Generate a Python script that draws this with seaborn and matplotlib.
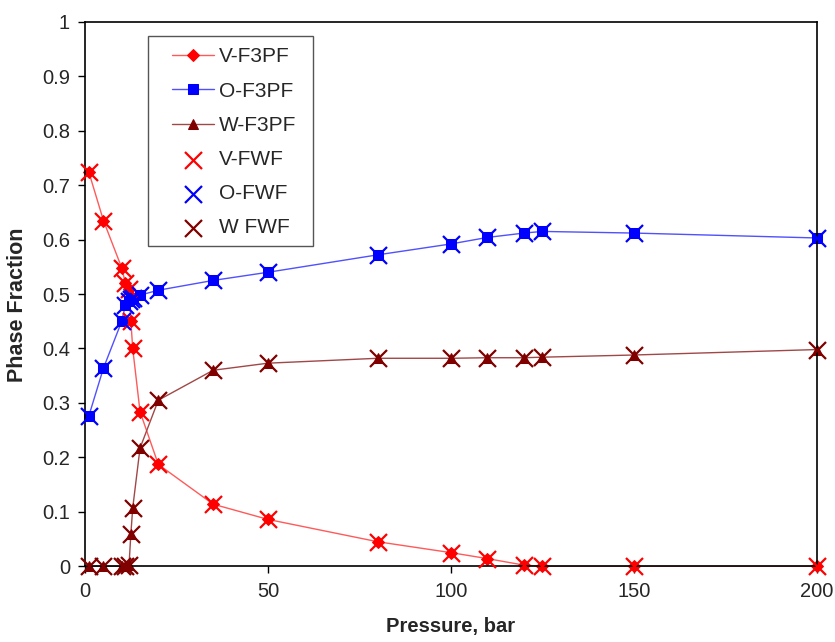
import numpy as np
import pandas as pd
import matplotlib
matplotlib.use("Agg")
import matplotlib.pyplot as plt
from matplotlib.patches import Rectangle
import seaborn as sns

# Pressure points (bar)
pressure = [1, 5, 10, 11, 12, 12.5, 13, 15, 20, 35, 50, 80, 100, 110, 120, 125, 150, 200]

# Phase fractions
vapour = [0.724, 0.635, 0.548, 0.52, 0.51, 0.45, 0.40, 0.284, 0.187, 0.114, 0.086,
          0.045, 0.025, 0.014, 0.002, 0.0, 0.0, 0.0]
oil = [0.276, 0.364, 0.450, 0.48, 0.487, 0.49, 0.493, 0.498, 0.507, 0.525, 0.540,
       0.572, 0.592, 0.604, 0.612, 0.615, 0.612, 0.603]
water = [0.0, 0.0, 0.0, 0.0, 0.003, 0.06, 0.107, 0.217, 0.305, 0.360, 0.373,
         0.382, 0.382, 0.383, 0.383, 0.384, 0.388, 0.398]

f3pf_labels = ["V-F3PF", "O-F3PF", "W-F3PF"]
fwf_labels = ["V-FWF", "O-FWF", "W FWF"]

colors = ["#ff0000", "#0000ff", "#800000"]
line_colors = ["#ff5a5a", "#5050ff", "#a04848"]
markers = ["D", "s", "^"]
msizes = [6, 6.5, 7.5]
series = [vapour, oil, water]

sns.set_style("white")
plt.rcParams["font.family"] = ["Liberation Sans", "DejaVu Sans"]

fig = plt.figure(figsize=(8.35, 6.42), dpi=100)
ax = fig.add_axes([0.102, 0.118, 0.876, 0.848])

# F3PF: lines with filled markers
for y, lab, c, lc, m, ms in zip(series, f3pf_labels, colors, line_colors, markers, msizes):
    sns.lineplot(x=pressure, y=y, ax=ax, color=lc, marker=m, markersize=ms,
                 markeredgecolor=c, markerfacecolor=c, linewidth=1.0,
                 label=lab, sort=False, estimator=None, clip_on=False)

# FWF: cross markers only
for y, lab, c in zip(series, fwf_labels, colors):
    sns.scatterplot(x=pressure, y=y, ax=ax, color=c, marker="x", s=150,
                    linewidth=1.6, label=lab, zorder=5, clip_on=False)

ax.set_xlim(0, 200)
ax.set_ylim(0, 1)
ax.set_xticks([0, 50, 100, 150, 200])
ax.set_yticks(np.arange(0, 1.01, 0.1))
ax.set_yticklabels(["0", "0.1", "0.2", "0.3", "0.4", "0.5", "0.6", "0.7", "0.8", "0.9", "1"])

for s in ax.spines.values():
    s.set_color("black")
    s.set_linewidth(1.2)

ax.tick_params(axis="both", direction="out", length=5, width=1, color="black",
               labelsize=14.5, pad=6, left=True, bottom=True)
ax.set_xlabel("Pressure, bar", fontsize=14.5, fontweight="bold", labelpad=12)
ax.set_ylabel("Phase Fraction", fontsize=15.5, fontweight="bold")
ax.yaxis.set_label_coords(-0.078, 0.48)

# legend frame drawn as a plain box, entries placed inside it
ax.add_patch(Rectangle((0.086, 0.588), 0.225, 0.386, transform=ax.transAxes,
                       fill=True, facecolor="white", edgecolor="#555555",
                       linewidth=1.0, zorder=6))
leg = ax.legend(loc="upper left", bbox_to_anchor=(0.119, 0.953), fontsize=15,
                frameon=False, labelspacing=0.73, handlelength=2.0,
                borderpad=0, handletextpad=0.25, borderaxespad=0)
leg.set_zorder(7)

fig.savefig("out.png", dpi=100)
